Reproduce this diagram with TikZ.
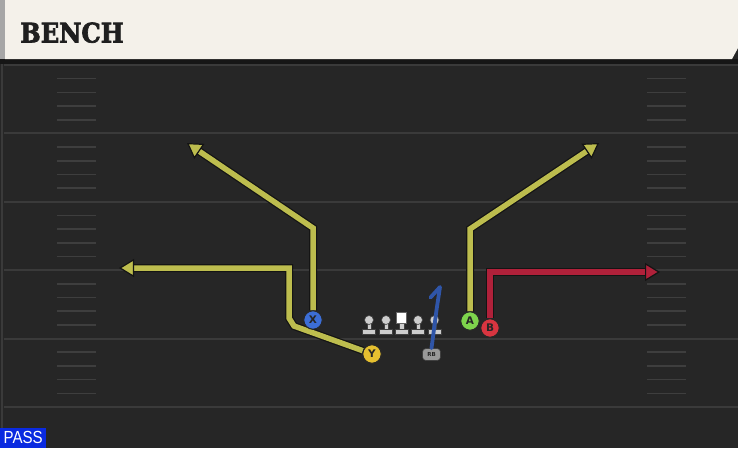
\documentclass[tikz,border=0pt]{standalone}
\usepackage{fontspec}
\usetikzlibrary{arrows.meta}
\newfontfamily\titlefont{DejaVu Serif Condensed Bold}[FakeBold=2.5]
\newfontfamily\labfont{DejaVu Sans}
\newfontfamily\passfont{Liberation Sans}[FakeStretch=0.86]
\definecolor{field}{HTML}{262626}
\definecolor{yard}{HTML}{3A3A3A}
\definecolor{hash}{HTML}{3E3E3E}
\definecolor{cream}{HTML}{F4F1EA}
\definecolor{routeY}{HTML}{BDBD4E}
\definecolor{routeR}{HTML}{B0213A}
\definecolor{routeB}{HTML}{2F55A8}
\definecolor{plX}{HTML}{3C6ED6}
\definecolor{plY}{HTML}{E6C030}
\definecolor{plA}{HTML}{7ED44C}
\definecolor{plB}{HTML}{D83540}
\definecolor{lineman}{HTML}{CDCDCD}
\definecolor{passblue}{HTML}{0A2AE0}
\definecolor{shadow}{HTML}{161616}
\tikzset{
  player/.style={circle, draw=black!85, line width=1pt, minimum size=18.5pt, inner sep=0pt, font=\labfont\bfseries\fontsize{10.5}{10.5}\selectfont, text=black!85},
  under/.style={draw=black!92, line width=8pt, line join=miter},
  routeline/.style={line width=5.5pt, line join=miter},
  tipY/.style={-{Triangle[length=15pt,width=18pt,fill=routeY,color=black!92,line width=1.2pt]}},
  tipR/.style={-{Triangle[length=15pt,width=18pt,fill=routeR,color=black!92,line width=1.2pt]}},
  yardline/.style={draw=yard, line width=2pt},
  hashline/.style={draw=hash, line width=1.6pt},
  manpart/.style={fill=lineman, draw=black!75, line width=0.6pt},
}
\begin{document}
\begin{tikzpicture}[x=1pt,y=-1pt]
\useasboundingbox (0,0) rectangle (738,448);
% field
\fill[field] (0,0) rectangle (738,448);
\fill[shadow] (0,59) rectangle (738,64);
\draw[draw=yard, line width=1.5pt] (2,64) -- (2,448);
% yard lines
\foreach \y in {65,133.4,201.8,270.2,338.6,407}
  \draw[yardline] (4,\y) -- (738,\y);
% hash marks
\foreach \b in {65,133.4,201.8,270.2,338.6}
  \foreach \k in {1,2,3,4}{
    \draw[hashline] (57,\b+\k*13.68) -- (96,\b+\k*13.68);
    \draw[hashline] (647,\b+\k*13.68) -- (686,\b+\k*13.68);
  }
% header
\fill[cream] (5,0) -- (738,0) -- (738,48) -- (732,59) -- (5,59) -- cycle;
\fill[black!35] (0,0) rectangle (5,59);
\node[anchor=base west, inner sep=0pt, text=black!88, font=\titlefont\fontsize{27}{27}\selectfont] (title) at (20,42.5) {BENCH};
% PASS label
\node[fill=passblue, text=white, anchor=south west, minimum width=46pt, minimum height=20pt, inner sep=0pt, font=\passfont\fontsize{17.5}{17.5}\selectfont] (pass) at (0,448) {PASS};

% players
\node[player, fill=plX] (X) at (313,320) {X};
\node[player, fill=plY] (Y) at (372,354) {Y};
\node[player, fill=plA] (A) at (470,321) {A};
\node[player, fill=plB] (B) at (490,328) {B};

% route coordinates
\coordinate (x1) at (313,228);
\coordinate (xt) at (187,143);
\coordinate (y1) at (294,326);
\coordinate (y2) at (289,318);
\coordinate (y3) at (289,268);
\coordinate (yt) at (119,268);
\coordinate (a1) at (470,229);
\coordinate (at1) at (599,143);
\coordinate (b1) at (490,272);
\coordinate (bt) at (660,272);

% underlays
\draw[under, shorten >=12pt] (X) -- (x1) -- (xt);
\draw[under, shorten >=12pt] (Y) -- (y1) -- (y2) -- (y3) -- (yt);
\draw[under, shorten >=12pt] (A) -- (a1) -- (at1);
\draw[under, shorten >=12pt] (B) -- (b1) -- (bt);
% routes
\draw[routeline, draw=routeY, tipY] (X) -- (x1) -- (xt);
\draw[routeline, draw=routeY, tipY] (Y) -- (y1) -- (y2) -- (y3) -- (yt);
\draw[routeline, draw=routeY, tipY] (A) -- (a1) -- (at1);
\draw[routeline, draw=routeR, tipR] (B) -- (b1) -- (bt);

% redraw players on top
\node[player, fill=plX] at (X) {X};
\node[player, fill=plY] at (Y) {Y};
\node[player, fill=plA] at (A) {A};
\node[player, fill=plB] at (B) {B};

% linemen
\foreach \x/\n in {369/l1,386/l2,418/l4,434.5/l5}{
  \fill[manpart] (\x-2.2,321) rectangle (\x+2.2,330);
  \fill[manpart] (\x-6.5,329) rectangle (\x+6.5,334.5);
  \node[circle, manpart, minimum size=9pt, inner sep=0pt] (\n) at (\x,320) {};
}
\fill[manpart] (399.5,322) rectangle (403.9,330);
\fill[manpart] (395.2,329) rectangle (408.2,334.5);
\node[fill=white, draw=black!60, line width=0.6pt, minimum width=10pt, minimum height=10.5pt, inner sep=0pt] (C) at (401.7,318) {};

% RB
\node[fill=black!40, draw=black!75, line width=0.6pt, rounded corners=3.5pt, minimum width=18pt, minimum height=12pt, inner sep=0pt, text=black!85, font=\labfont\bfseries\fontsize{5.5}{5.5}\selectfont] (RB) at (431.5,354.5) {RB};
\coordinate (r1) at (436.5,310);
\coordinate (r2) at (440,287);
\coordinate (r3) at (430.5,297.5);
\draw[draw=routeB, line width=3.8pt, line join=round, line cap=round] (RB.north) -- (r1) -- (r2) -- (r3);
\end{tikzpicture}
\end{document}
